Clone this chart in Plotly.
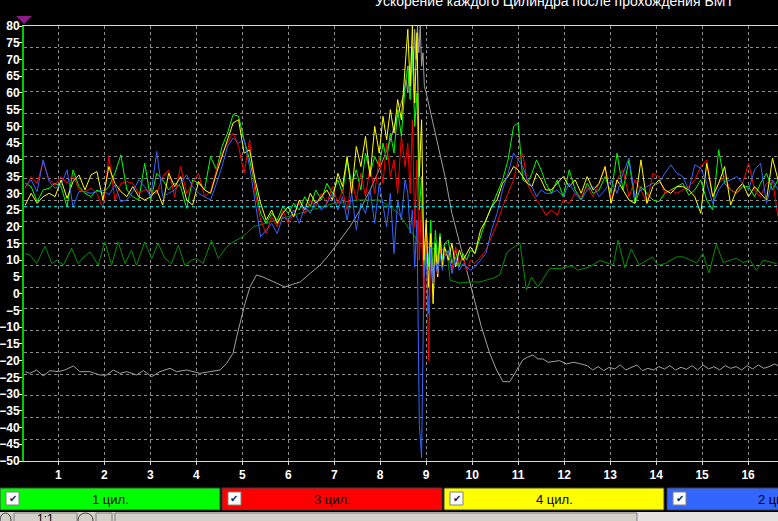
import plotly.graph_objects as go

# ---------------- data ----------------
TITLE = "Ускорение каждого Цилиндра после прохождения ВМТ"
SERIES_NAMES = ["1 цил.", "3 цил.", "4 цил.", "2 цил."]
SERIES_COLORS = ["#00ff00", "#ff0000", "#ffff00", "#3366ff"]
Y_TICKS = list(range(-50, 85, 5))
X_TICKS = list(range(1, 17))
THRESHOLD = 26

X_CYL = [0.28, 0.41, 0.54, 0.67, 0.80, 0.93, 1.06, 1.19, 1.32, 1.45, 1.58, 1.71, 1.84, 1.97, 2.10, 2.23,
         2.36, 2.49, 2.62, 2.75, 2.88, 3.01, 3.14, 3.27, 3.40, 3.53, 3.66, 3.79, 3.92, 4.05, 4.18, 4.31, 4.44,
         4.56,
         4.68, 4.80, 4.92, 5.04, 5.16, 5.28, 5.40, 5.52, 5.64, 5.76, 5.88, 6.00, 6.12, 6.24, 6.36, 6.48,
         6.60, 6.72, 6.84, 6.96,
         7.08, 7.18, 7.28, 7.38, 7.48, 7.58, 7.68, 7.78, 7.88, 7.98, 8.06, 8.14, 8.22, 8.30, 8.38, 8.46, 8.54,
         8.60, 8.65, 8.70, 8.75, 8.80, 8.85, 8.90, 8.95, 9.00, 9.05, 9.10, 9.15, 9.20, 9.25, 9.30, 9.35, 9.40,
         9.48, 9.56, 9.64, 9.72, 9.80, 9.88, 9.96,
         10.06, 10.18, 10.30, 10.42, 10.54, 10.66, 10.78, 10.90, 11.00,
         11.10, 11.20, 11.30, 11.40, 11.50, 11.60,
         11.72, 11.85, 11.98, 12.11, 12.24, 12.37, 12.50, 12.63, 12.76, 12.89, 13.02, 13.15, 13.28, 13.41,
         13.54, 13.67, 13.80, 13.93, 14.06, 14.19, 14.32, 14.45, 14.58, 14.71, 14.84, 14.97, 15.10, 15.23,
         15.36, 15.49, 15.62, 15.75, 15.88, 16.01, 16.14, 16.27, 16.40, 16.53, 16.65]

CYL1 = [33, 32, 27.5, 31, 31.5, 33, 32, 26, 37, 32, 30, 29, 31, 30, 32, 36, 41.5, 31, 29, 28, 39, 28, 36, 34,
        31, 33, 32, 25.5, 34, 33, 31, 41, 37,
        44,
        48, 53.5, 53, 46, 40, 32, 24, 21, 24, 22, 26, 24, 27, 25, 29, 26, 31, 28, 33, 30,
        34, 30, 40, 33, 37, 31, 42, 36, 41, 38, 45, 40, 48, 42, 55, 47, 62,
        68, 58, 73, 50, 60, 25, 35, 5, 20, 8, 22, 4, 19, 9, 18, 10, 15,
        16, 9, 13, 8, 12, 10, 13,
        12, 17, 22, 26, 30, 34, 40, 50, 51,
        34, 33, 36, 40, 37, 33,
        30, 34, 29, 37, 31, 28, 33, 30, 31, 35, 30, 42, 31, 40, 27, 32, 30, 28, 27.5, 30, 31, 32, 33, 29.5,
        31, 34, 28, 25, 43, 33, 31, 30, 32, 32, 29, 33, 36, 31, 34]

CYL3 = [31.5, 35, 33, 39.5, 34, 32.5, 35, 33, 35.5, 31, 30.5, 31.5, 30, 25.5, 41, 28, 33, 33.5, 33, 30, 31,
        30.5, 30, 35, 37, 29, 38, 30, 33, 36, 29, 30.5, 37,
        42,
        45, 48, 44, 36, 46, 30, 22, 18, 23, 20, 25, 21, 24, 27, 24, 28, 26, 30, 27, 32,
        27, 31, 25, 34, 28, 36, 29, 38, 30, 41, 33, 45, 35, 40, 30, 47, 38,
        45, 30, 52, 20, 40, 10, 28, -5, 20, -20, 15, 0, 12, 5, 14, 8, 12,
        12, 7, 14, 9, 11, 7, 10,
        9, 11, 13, 17, 21, 26, 30, 34, 40,
        42, 33, 30, 28, 26, 23.5,
        25, 23.5, 28, 27, 30, 29, 32, 29, 33, 38, 28, 34, 37, 29, 34, 31, 27, 36, 35, 30, 31, 30, 31, 32,
        34, 38, 40, 29, 33, 35, 31, 30, 33, 39, 31, 29, 33, 34, 23]

CYL4 = [26.5, 30, 27, 29, 30, 29, 34, 28.5, 33.5, 35.5, 31, 35.5, 36.5, 28, 38, 33, 30.5, 29, 32, 29, 28,
        29, 31, 26.5, 36, 32, 35, 28, 26.5, 33.5, 31, 30, 36,
        41,
        46, 51, 52, 42, 43, 34, 27, 22, 25, 21, 24, 26, 23, 28, 25, 30, 27, 29, 31, 28,
        36, 32, 41, 30, 44, 38, 47, 35, 50, 42, 53, 46, 55, 48, 58, 52, 66,
        79, 62, 80, 57, 78, 35, 52, 10, 22, 2, 18, -3, 15, 5, 17, 8, 14,
        10, 15, 8, 13, 10, 12, 14,
        12, 19, 22, 26, 28, 33, 35, 38, 37,
        35, 33, 32, 36, 34, 31,
        31, 33, 35, 32, 34, 30, 35, 31, 33, 38, 27, 34, 31, 28, 27, 40, 27, 32, 34, 31, 30, 32, 32, 31,
        29, 24, 39, 29, 33, 38, 26.5, 31, 33, 29, 32, 30, 28, 40.5, 34]

CYL2 = [32, 34, 30.5, 40, 33.5, 31.5, 32.5, 37, 26, 30.5, 30.5, 30, 30.5, 31, 29.5, 32.5, 27.5, 28, 30.5,
        34, 32, 29, 42.5, 29, 30, 31, 33, 35.5, 32, 30, 29, 28, 33,
        38,
        44, 46.5, 45, 46, 38, 28, 17, 19, 21, 18, 23, 22, 25, 21, 26, 24, 28, 25, 27, 30,
        25, 29, 22, 30, 19, 27, 24, 31, 21, 33, 26, 20, 30, 12, 28, 22, 34,
        30, 18, 25, 8, 22, -39, -49, 5, 12, -6, 14, 3, 10, 6, 12, 7, 11,
        13, 6, 11, 7, 9, 8, 7,
        8, 10, 12, 19, 24, 31, 36, 42, 40,
        38, 34, 32, 29, 31, 30,
        30, 31, 29, 33, 30, 28, 31, 32, 29, 31, 34, 30, 36, 40.5, 29, 31, 32, 33, 33, 36, 38.5, 36, 35, 31,
        38.5, 37.5, 33, 27, 31, 33.5, 34, 35, 33, 31, 37, 39, 27, 34, 31]

X_AUX = [0.28, 0.39, 0.53, 0.71, 0.86, 0.97, 1.11, 1.29, 1.43, 1.56, 1.69, 1.87, 2.01, 2.16, 2.30, 2.45,
         2.59, 2.70, 2.88, 3.03, 3.17, 3.32, 3.46, 3.61, 3.75, 3.90, 4.01, 4.15, 4.33, 4.48, 4.66, 4.80,
         4.95, 5.09, 5.24, 5.37, 5.60, 6.00, 6.50, 7.00, 7.50, 8.00, 8.40, 8.70, 8.90, 9.20, 9.45, 9.52,
         9.73, 9.95, 10.17, 10.46, 10.60, 10.75, 10.86, 11.04, 11.18, 11.29, 11.43, 11.69, 11.90, 12.17,
         12.30, 12.55, 12.78, 13.07, 13.17, 13.32, 13.46, 13.63, 13.92, 14.04, 14.20, 14.44, 14.59, 14.88,
         15.02, 15.15, 15.31, 15.46, 15.75, 15.89, 16.04, 16.18, 16.33, 16.62]
AUX_GREEN = [12, 11.5, 9, 14.2, 9, 10, 8.6, 13.6, 9, 11, 12.5, 8.6, 15.5, 8.6, 15.5, 9,
             13, 8.5, 15.5, 10.5, 15, 10.5, 9, 14.5, 8.5, 10, 10.5, 9, 16, 10.5, 14, 15.5,
             16.5, 18, 20, 20.5, 21.5, 23, 25, 27, 28, 28, 24, 18, 14, 13.5, 13, 4,
             3.2, 3.5, 3.5, 4.7, 5.6, 12.2, 13.5, 15.1, 1.1, 5, 2, 7.6, 7.5, 8.3,
             7, 8, 9.9, 8.6, 16, 7.7, 13.4, 8.6, 11, 8.5, 9, 11, 11, 9.2,
             12, 6.2, 14.8, 9.3, 10.6, 9.3, 10, 7, 10, 9]

X_GRAY = [0.28, 0.38, 0.53, 0.67, 0.82, 1.00, 1.14, 1.33, 1.47, 1.69, 1.90, 2.05, 2.20, 2.34, 2.49, 2.70,
          2.85, 3.03, 3.21, 3.43, 3.57, 3.79, 4.08, 4.30, 4.52, 4.66, 4.80, 4.88, 4.95, 5.06, 5.17, 5.31,
          5.45, 5.60, 5.75, 5.93, 6.10, 6.26, 6.47, 6.69, 6.91, 7.12, 7.34, 7.56, 7.78, 8.00, 8.20, 8.43,
          8.52, 8.56, 8.60, 8.63, 8.66, 8.69, 8.72, 8.75, 8.78, 8.81, 8.84, 8.87, 8.90, 8.93, 8.96, 9.00,
          9.08, 9.23, 9.41, 9.56, 9.73, 9.90, 10.06, 10.20, 10.38, 10.53, 10.67, 10.82, 10.93, 11.10,
          11.20, 11.32, 11.43, 11.54, 11.65, 11.75, 11.90, 12.05, 12.20, 12.34, 12.50, 12.62, 12.74, 12.86,
          12.98, 13.10, 13.22, 13.34, 13.46, 13.58, 13.70, 13.82, 13.94, 14.06, 14.18, 14.30, 14.42, 14.54,
          14.66, 14.78, 14.90, 15.02, 15.14, 15.26, 15.38, 15.50, 15.62, 15.74, 15.86, 15.98, 16.10, 16.22,
          16.34, 16.46, 16.58, 16.65]
GRAY = [-23.3, -23.8, -22.8, -24.6, -23, -23.3, -22.8, -21.6, -23.3, -23.3, -24.3, -24.3, -22.8, -23.8,
        -23.3, -24.3, -23, -24.8, -23.3, -22.3, -23.3, -22.8, -23.8, -23.3, -22.8, -20.8, -17.8, -12.8,
        -8.8, -2.9, 2.1, 5.6, 5, 4, 3, 2, 2.8, 3.5, 6, 8.5, 12, 16, 20, 25, 31, 37.8, 45, 55.8,
        60, 64, 60, 68, 62, 74, 66, 79, 70, 80, 72, 80, 68, 72, 62, 60,
        55, 46, 35, 24, 15, 6, -3, -9.9, -17.8, -22.8, -26.3, -26.3, -23.7, -19.8,
        -19, -18.3, -19.5, -19.5, -20.5, -20.3, -20, -21, -20.5, -20.9, -21.5, -22.8, -21.8, -23,
        -22, -22.5, -21.3, -22.8, -22, -21.3, -23, -22.3, -22.8, -21.8, -22.5, -21.5, -22.8, -22,
        -22.6, -21.5, -22.8, -21.3, -22.5, -21.8, -22.8, -21.5, -22.3, -21.8, -22.8, -21.5, -22.5, -21.3,
        -22.3, -21.8, -21, -21.5]

for arr in (CYL1, CYL3, CYL4, CYL2):
    assert len(arr) == len(X_CYL), len(arr)
assert len(AUX_GREEN) == len(X_AUX)
assert len(GRAY) == len(X_GRAY)

# ---------------- geometry ----------------
W, H = 778, 521
ML, MR, MT, MB = 24, 0, 26, 60
PW, PH = W - ML - MR, H - MT - MB
X_RANGE = [0.254, 16.65]
Y_RANGE = [-50, 80]


def px(xp):
    return (xp - ML) / PW


def py(yp):
    return (H - MB - yp) / PH


fig = go.Figure()

fig.add_trace(go.Scatter(x=X_GRAY, y=GRAY, mode="lines", line=dict(color="#a0a0a0", width=1),
                         showlegend=False, hoverinfo="skip"))
fig.add_trace(go.Scatter(x=X_AUX, y=AUX_GREEN, mode="lines", line=dict(color="#009000", width=1),
                         showlegend=False, hoverinfo="skip"))
for name, col, ys in zip(SERIES_NAMES, SERIES_COLORS, [CYL1, CYL3, CYL4, CYL2]):
    fig.add_trace(go.Scatter(x=X_CYL, y=ys, mode="lines", name=name,
                             line=dict(color=col, width=1), showlegend=False))
fig.add_trace(go.Scatter(x=X_RANGE, y=[THRESHOLD, THRESHOLD], mode="lines", yaxis="y2",
                         line=dict(color="#00ffff", width=1, dash="dot"), showlegend=False,
                         hoverinfo="skip"))

tickfont = dict(family="Liberation Sans", size=12, color="#ffffff", weight="bold")
ytickfont = dict(family="Liberation Sans", size=12, color="#ffffff", weight="bold")

fig.update_layout(
    width=W, height=H,
    margin=dict(l=ML, r=MR, t=MT, b=MB, pad=0, autoexpand=False),
    paper_bgcolor="#000000", plot_bgcolor="#000000",
    showlegend=False,
    xaxis=dict(range=X_RANGE, tickvals=X_TICKS, ticktext=[str(v) for v in X_TICKS],
               automargin=False,
               showgrid=True, gridcolor="#8c8c8c", griddash="dot", gridwidth=1,
               zeroline=False, showline=True, linecolor="#d8d8d8", linewidth=1, mirror=True,
               ticks="outside", ticklen=3, tickcolor="#d8d8d8", tickfont=tickfont),
    yaxis=dict(range=Y_RANGE, tick0=-50, dtick=6.5, showgrid=True, gridcolor="#8c8c8c",
               automargin=False,
               griddash="dot", gridwidth=1, showticklabels=False, ticks="", zeroline=False,
               showline=False),
    yaxis2=dict(range=Y_RANGE, overlaying="y", side="left", tickvals=Y_TICKS, automargin=False,
                showgrid=False, zeroline=False, showline=True, linecolor="#00cc00", linewidth=2,
                ticks="outside", ticklen=3, tickcolor="#ffffff", tickfont=ytickfont,
                ticklabelstandoff=-3),
)

shapes = []
annotations = []

# purple marker at top-left
shapes.append(dict(type="path", xref="paper", yref="paper",
                   path=f"M {px(16)} {py(16)} L {px(32)} {py(16)} L {px(24)} {py(24)} Z",
                   fillcolor="#8b1a8b", line=dict(width=0)))

# title (partially cut at top, as in the source)
annotations.append(dict(text=TITLE, xref="paper", yref="paper", x=px(554), y=py(1),
                        xanchor="center", yanchor="middle", showarrow=False,
                        font=dict(family="Liberation Sans", size=14, color="#ffffff")))

# channel bar
box_edges = [(0, 220), (222, 442), (444, 664), (667, 889)]
for (x0, x1), name, col in zip(box_edges, SERIES_NAMES, SERIES_COLORS):
    shapes.append(dict(type="rect", xref="paper", yref="paper", x0=px(x0), x1=px(x1),
                       y0=py(510), y1=py(488), fillcolor=col, line=dict(color="#404040", width=1)))
    shapes.append(dict(type="rect", xref="paper", yref="paper", x0=px(x0 + 6), x1=px(x0 + 19),
                       y0=py(505), y1=py(492), fillcolor="#ffffff", line=dict(color="#808080", width=1)))
    annotations.append(dict(text="✔", xref="paper", yref="paper", x=px(x0 + 12.5), y=py(498.5),
                            xanchor="center", yanchor="middle", showarrow=False,
                            font=dict(family="DejaVu Sans", size=10, color="#0a246a")))
    annotations.append(dict(text=name, xref="paper", yref="paper", x=px((x0 + x1) / 2 if x1 < 800 else 776),
                            y=py(499), xanchor="center", yanchor="middle", showarrow=False,
                            font=dict(family="Liberation Sans", size=13, color="#000000")))

# toolbar strip at the bottom
shapes.append(dict(type="rect", xref="paper", yref="paper", x0=px(0), x1=px(637), y0=py(522), y1=py(512),
                   fillcolor="#d4d0c8", line=dict(width=0)))
shapes.append(dict(type="rect", xref="paper", yref="paper", x0=px(637), x1=px(778), y0=py(522), y1=py(512),
                   fillcolor="#e4e2de", line=dict(width=0)))
for x0, x1 in [(14, 77), (96, 112), (115, 637)]:
    shapes.append(dict(type="rect", xref="paper", yref="paper", x0=px(x0), x1=px(x1), y0=py(524), y1=py(513),
                       fillcolor="#d4d0c8", line=dict(color="#808080", width=1)))
for x0, x1 in [(0, 11), (78, 93)]:
    shapes.append(dict(type="circle", xref="paper", yref="paper", x0=px(x0), x1=px(x1), y0=py(527), y1=py(513),
                       fillcolor="#d4d0c8", line=dict(color="#404040", width=1)))
annotations.append(dict(text="1:1", xref="paper", yref="paper", x=px(45), y=py(519),
                        xanchor="center", yanchor="middle", showarrow=False,
                        font=dict(family="Liberation Sans", size=12, color="#000000")))

fig.update_layout(shapes=shapes, annotations=annotations)
fig.write_html("out.html", config={"displayModeBar": False},
               post_script="document.body.style.margin='0';document.body.style.overflow='hidden';")
